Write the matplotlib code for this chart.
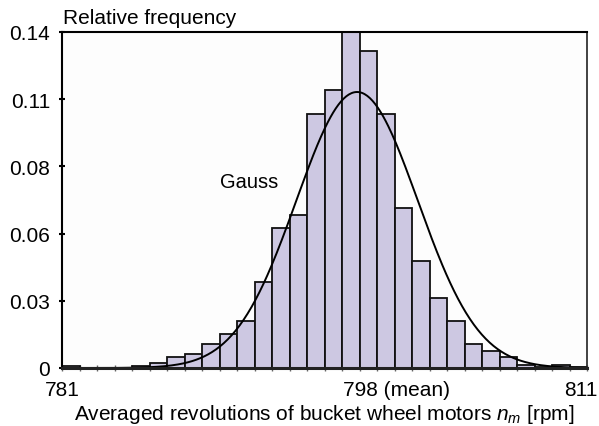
import numpy as np
import matplotlib
matplotlib.use('Agg')
import matplotlib.pyplot as plt
from matplotlib.transforms import ScaledTranslation

# ---- data ----
bin_left = list(range(781, 811))
rel_freq = [0.0008, 0.0, 0.0, 0.0, 0.0008, 0.0020, 0.0047, 0.0058, 0.0100, 0.0142,
            0.0197, 0.0360, 0.0582, 0.0638, 0.1060, 0.1158, 0.1400, 0.1320, 0.1060, 0.0666,
            0.0445, 0.0290, 0.0197, 0.0100, 0.0071, 0.0046, 0.0013, 0.0006, 0.0014, 0.0006]
gauss_mean = 797.86
gauss_sd = 3.47
gauss_peak = 0.115
ytick_vals = [0, 0.028, 0.056, 0.084, 0.112, 0.14]
ytick_labels = ['0', '0.03', '0.06', '0.08', '0.11', '0.14']
xtick_vals = [781, 798, 811]
xtick_labels = ['781', '798 (mean)', '811']

plt.rcParams['font.family'] = ['Liberation Sans', 'DejaVu Sans']
plt.rcParams['mathtext.fontset'] = 'custom'
plt.rcParams['mathtext.rm'] = 'Liberation Sans'
plt.rcParams['mathtext.it'] = 'Liberation Sans:italic'

FS = 15

fig = plt.figure(figsize=(5.99, 4.27), dpi=100)
fig.patch.set_facecolor('white')
ax = fig.add_axes([62/599, 1-369/427, (587-62)/599, (369-33)/427])
ax.set_facecolor('#fdfdfd')

ax.bar(bin_left, rel_freq, width=1.0, align='edge', color='#cdc8e2',
       edgecolor='#111111', linewidth=1.3, zorder=2)

xs = np.linspace(781, 811, 400)
ys = gauss_peak * np.exp(-0.5 * ((xs - gauss_mean) / gauss_sd) ** 2)
ax.plot(xs, ys, color='black', lw=1.4, zorder=3)

ax.text(791.7, 0.0775, 'Gauss', fontsize=14.5, ha='center', va='center')

ax.set_xlim(781, 811)
ax.set_ylim(0, 0.14)
ax.set_yticks(ytick_vals)
ax.set_yticklabels(ytick_labels, fontsize=FS)
ax.set_xticks(xtick_vals)
ax.set_xticklabels(xtick_labels, fontsize=FS)
ax.set_xticks(range(781, 812), minor=True)

ax.tick_params(axis='y', direction='inout', length=5, width=1.5, pad=6)
ax.tick_params(axis='x', which='both', direction='inout', length=5, width=1, color='#666666', pad=6)

labs = ax.get_xticklabels()
lab = labs[1]
lab.set_ha('left')
lab.set_transform(lab.get_transform() + ScaledTranslation(-17/100, 0, fig.dpi_scale_trans))
lab = labs[2]
lab.set_ha('right')
lab.set_transform(lab.get_transform() + ScaledTranslation(10/100, 0, fig.dpi_scale_trans))

for s in ['left', 'top']:
    ax.spines[s].set_linewidth(1.5)
    ax.spines[s].set_color('black')
ax.spines['right'].set_linewidth(1.2)
ax.spines['right'].set_color('#222222')
ax.spines['bottom'].set_linewidth(2.2)
ax.spines['bottom'].set_color('#222222')
ax.spines['bottom'].set_zorder(4)

ax.set_xlabel(r'Averaged revolutions of bucket wheel motors $n_m$ [rpm]', fontsize=FS, labelpad=2)
fig.text(63/599, 1-19/427, 'Relative frequency', fontsize=FS, ha='left', va='center')

fig.savefig('out.png', dpi=100)
